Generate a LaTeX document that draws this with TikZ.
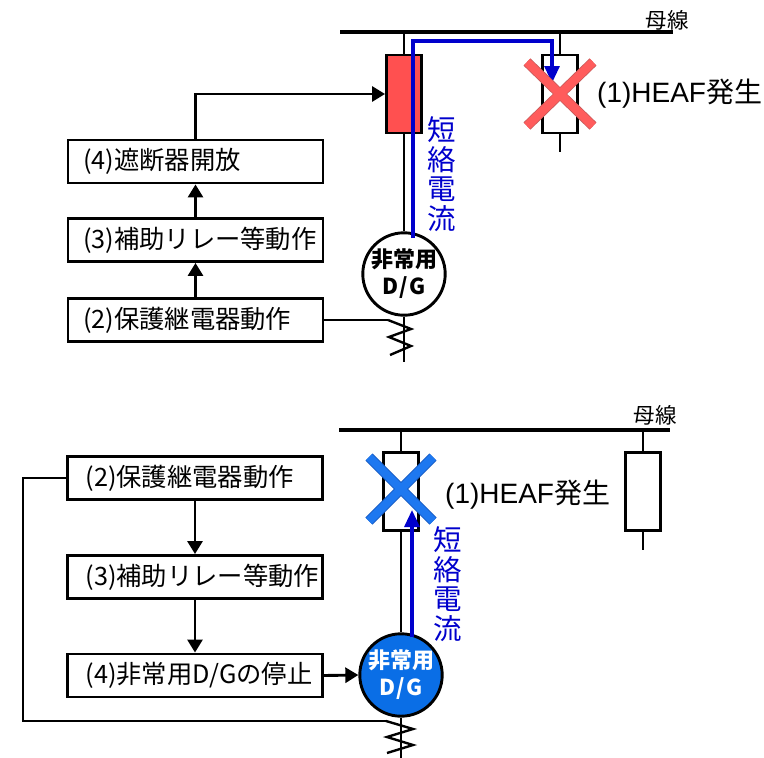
\documentclass[tikz,border=0pt]{standalone}
\usepackage{fontspec}
\setmainfont{Noto Sans CJK JP}
\newfontfamily\lat{Liberation Sans}
\usetikzlibrary{arrows.meta}
\definecolor{brkred}{HTML}{FF5050}
\definecolor{xred}{HTML}{FF5C5C}
\definecolor{xredline}{HTML}{C85A5A}
\definecolor{curblue}{HTML}{0000CC}
\definecolor{xblue}{HTML}{1E78F0}
\definecolor{xblueline}{HTML}{1458C0}
\definecolor{dgblue}{HTML}{0A6EE6}
\begin{document}
\begin{tikzpicture}[x=1pt,y=-1pt,
 wire/.style={line width=2.9pt, black},
 busline/.style={line width=3.3pt, black},
 stepbox/.style={draw, line width=2.9pt, minimum height=43pt, inner xsep=15pt, inner ysep=0pt, font=\fontsize{25.3}{26}\selectfont},
 brk/.style={draw, line width=2.9pt, minimum width=35pt, minimum height=78pt, inner sep=0pt},
 gen/.style={circle, draw, line width=2.9pt, minimum size=78pt, inner sep=0pt, align=center, font=\bfseries\fontsize{22}{27}\selectfont},
 flow/.style={wire, -{Triangle[width=15pt,length=13pt]}},
 cur/.style={line width=3.2pt, curblue, -{Triangle[width=15pt,length=17pt]}},
 curlabel/.style={curblue, align=center, font=\fontsize{28.5}{29.5}\selectfont, inner sep=0pt},
 heaf/.style={anchor=west, inner sep=0pt, font=\fontsize{28}{30}\selectfont},
 buslabel/.style={font=\fontsize{21.5}{22}\selectfont, inner sep=0pt},
 xout/.style={line width=10pt},
 xin/.style={line width=8.4pt},
]
\useasboundingbox (0,0) rectangle (764,758);

% ================= TOP DIAGRAM =================
\coordinate (bus1L) at (340,32);
\coordinate (bus1R) at (673,32);
\draw[busline] (bus1L) -- (bus1R);
\node[buslabel] (bl1) at (667,20) {母線};

\node[brk, fill=brkred] (brk1) at (404,94) {};
\node[brk, fill=white] (el1) at (560,94) {};
\coordinate (el1end) at (560,152);
\node[gen, fill=white] (g1) at (404,274) {非常用\\D\kern1pt/\kern1pt G};

\draw[wire] (brk1.north) -- (brk1.north |- bus1L);
\draw[wire] (brk1.south) -- (g1.north);
\draw[wire] (el1.north) -- (el1.north |- bus1L);
\draw[wire] (el1.south) -- (el1end);

% zigzag 1
\coordinate (z1) at (388,320);
\coordinate (z1bot) at (404,362);
\draw[wire] (g1.south) -- (z1bot);
\draw[wire, line width=2.4pt, line join=miter] (z1) -- (411,329) -- (389,337) -- (411,346) -- (390,355);

% boxes top
\node[stepbox] (b4t) at (195.5,161.5) {\makebox[225pt][l]{(4)遮断器開放}};
\node[stepbox] (b3t) at (195.5,240) {\makebox[225pt][l]{(3)補助リレー等動作}};
\node[stepbox] (b2t) at (195.5,320) {\makebox[225pt][l]{(2)保護継電器動作}};
\draw[flow] (b2t.north) -- (b3t.south);
\draw[flow] (b3t.north) -- (b4t.south);
\draw[flow] (b4t.north) |- (brk1.west);
\draw[wire] (b2t.east) -- (z1);

% short-circuit current top
\coordinate (c1s) at (413,238);
\coordinate (c1e) at (552,83);
\draw[cur] (c1s) |- (552,41) -- (c1e);

% red X
\draw[xout, xredline] (527,62) -- (593,126) (593,62) -- (527,126);
\draw[xin, xred] (527,62) -- (593,126) (593,62) -- (527,126);

\node[curlabel] (cl1) at (442,174) {短\\絡\\電\\流};
\node[heaf] (h1) at (597,94) {{\lat (1)HEAF}発生};

% ================= BOTTOM DIAGRAM =================
\coordinate (bus2L) at (339,430);
\coordinate (bus2R) at (670,430);
\draw[busline] (bus2L) -- (bus2R);
\node[buslabel] (bl2) at (655,415) {母線};

\node[brk, fill=white] (brk2) at (401,491.5) {};
\node[brk, fill=white] (el2) at (643,491.5) {};
\coordinate (el2end) at (643,550);
\node[gen, fill=dgblue, text=white, minimum size=80pt] (g2) at (401,675) {非常用\\D\kern1pt/\kern1pt G};

\draw[wire] (brk2.north) -- (brk2.north |- bus2L);
\draw[wire] (brk2.south) -- (g2.north);
\draw[wire] (el2.north) -- (el2.north |- bus2L);
\draw[wire] (el2.south) -- (el2end);

% zigzag 2
\coordinate (z2) at (386,721);
\coordinate (z2bot) at (401,760);
\draw[wire] (g2.south) -- (z2bot);
\draw[wire, line width=2.4pt, line join=miter] (z2) -- (413,729) -- (387,737) -- (413,745) -- (387,753);

% boxes bottom
\node[stepbox] (b2b) at (195,478) {\makebox[225pt][l]{\hspace*{3pt}(2)保護継電器動作}};
\node[stepbox] (b3b) at (195,577) {\makebox[225pt][l]{\hspace*{3pt}(3)補助リレー等動作}};
\node[stepbox] (b4b) at (195,675.5) {\makebox[225pt][l]{\hspace*{3pt}(4)非常用D/Gの停止}};
\draw[flow] (b2b.south) -- (b3b.north);
\draw[flow] (b3b.south) -- (b4b.north);
\draw[flow] (b4b.east) -- (g2.west);
\coordinate (fb1) at (23,478);
\coordinate (fb2) at (23,721);
\draw[wire] (b2b.west) -- (fb1) -- (fb2) -- (z2);

% blue X
\draw[xout, xblueline] (369,457) -- (433,521) (433,457) -- (369,521);
\draw[xin, xblue] (369,457) -- (433,521) (433,457) -- (369,521);

% short-circuit current bottom
\coordinate (c2s) at (412,637);
\coordinate (c2e) at (412,510);
\draw[cur] (c2s) -- (c2e);

\node[curlabel] (cl2) at (448,584) {短\\絡\\電\\流};
\node[heaf] (h2) at (445,495) {{\lat (1)HEAF}発生};

\end{tikzpicture}
\end{document}
